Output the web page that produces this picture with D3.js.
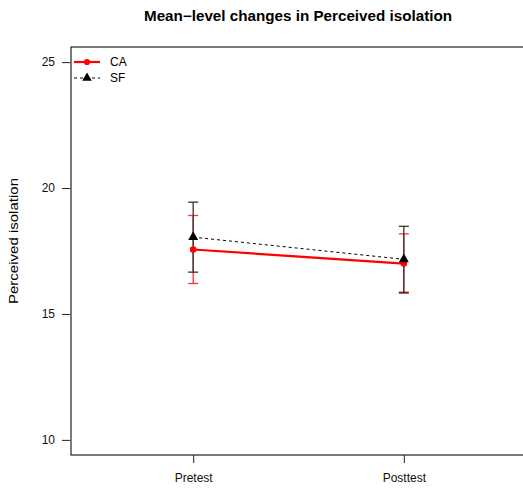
<!DOCTYPE html>
<html>
<head>
<meta charset="utf-8">
<script src="https://cdn.jsdelivr.net/npm/d3@7"></script>
<style>
  body { margin: 0; background: #fff; }
  text { font-family: "Liberation Sans", Arial, sans-serif; }
</style>
</head>
<body>
<svg id="chart" width="523" height="489"></svg>
<script>
// data
const timepoints = ["Pretest", "Posttest"];
const groups = ["CA", "SF"];
const caMeans = [17.56, 17.0];
const caErrors = [1.35, 1.18];
const sfMeans = [18.05, 17.17];
const sfErrors = [1.39, 1.31];
const yTicks = [10, 15, 20, 25];

const svg = d3.select("#chart");
const margin = { top: 47, left: 71, bottom: 455, right: 526 };

// scales (R-style 4% padding)
const x = d3.scaleLinear().domain([0.42, 2.58]).range([margin.left, margin.right]);
const y = d3.scaleLinear().domain([9.4, 25.6]).range([margin.bottom, margin.top]);

// title
svg.append("text")
    .attr("x", 298)
    .attr("y", 21)
    .attr("text-anchor", "middle")
    .attr("font-size", 14)
    .attr("font-weight", "bold")
    .attr("textLength", 308)
    .attr("lengthAdjust", "spacingAndGlyphs")
    .text("Mean\u2212level changes in Perceived isolation");

// box
svg.append("rect")
    .attr("x", margin.left)
    .attr("y", margin.top)
    .attr("width", margin.right - margin.left)
    .attr("height", margin.bottom - margin.top)
    .attr("fill", "none")
    .attr("stroke", "#222")
    .attr("stroke-width", 1.2);

// axes
const yAxis = svg.append("g")
    .attr("transform", "translate(" + (margin.left - 1) + ",0)")
    .call(d3.axisLeft(y).tickValues(yTicks).tickSize(8).tickPadding(7));
const xAxis = svg.append("g")
    .attr("transform", "translate(0," + margin.bottom + ")")
    .call(d3.axisBottom(x).tickValues([1, 2]).tickSize(8).tickPadding(10)
        .tickFormat((d, i) => timepoints[i]));
[yAxis, xAxis].forEach(a => {
    a.select(".domain").remove();
    a.selectAll("line").attr("stroke", "#222");
    a.selectAll("text").attr("font-size", 12).attr("fill", "#111")
        .style("font-family", "'Liberation Sans', Arial, sans-serif");
});

// y label
svg.append("text")
    .attr("transform", "translate(18,241) rotate(-90)")
    .attr("text-anchor", "middle")
    .attr("font-size", 12)
    .attr("textLength", 126)
    .attr("lengthAdjust", "spacingAndGlyphs")
    .text("Perceived isolation");

const xs = [1, 2];
const series = [
    { name: groups[0], means: caMeans, errs: caErrors, color: "red", barColor: "#f33", dash: null, width: 2.2, shape: "circle" },
    { name: groups[1], means: sfMeans, errs: sfErrors, color: "black", barColor: "#333", dash: "3,3", width: 1, shape: "triangle" }
];

// error bars (CA first, SF on top of it, like the reference)
series.forEach(s => {
    const g = svg.append("g");
    s.means.forEach((m, i) => {
        const cx = x(xs[i]);
        g.append("line")
            .attr("x1", cx).attr("x2", cx)
            .attr("y1", y(m - s.errs[i])).attr("y2", y(m + s.errs[i]))
            .attr("stroke", s.barColor).attr("stroke-width", 1.3);
        [m - s.errs[i], m + s.errs[i]].forEach(v => {
            g.append("line")
                .attr("x1", cx - 5).attr("x2", cx + 5)
                .attr("y1", y(v)).attr("y2", y(v))
                .attr("stroke", s.barColor).attr("stroke-width", 1.3);
        });
    });
});

// lines and points
const line = d3.line().x((d, i) => x(xs[i])).y(d => y(d));
series.forEach(s => {
    svg.append("path")
        .datum(s.means)
        .attr("d", line)
        .attr("fill", "none")
        .attr("stroke", s.color)
        .attr("stroke-width", s.width)
        .attr("stroke-dasharray", s.dash);
});
series.forEach(s => {
    const sym = s.shape === "circle" ? d3.symbolCircle : d3.symbolTriangle;
    svg.selectAll(null)
        .data(s.means)
        .enter().append("path")
        .attr("transform", (d, i) => "translate(" + x(xs[i]) + "," + y(d) + ")")
        .attr("d", d3.symbol().type(sym).size(s.shape === "circle" ? 34 : 44))
        .attr("fill", s.color);
});

// legend
const legend = svg.append("g");
series.forEach((s, i) => {
    const ly = 62 + i * 16;
    legend.append("line")
        .attr("x1", 74).attr("x2", 100)
        .attr("y1", ly).attr("y2", ly)
        .attr("stroke", s.color)
        .attr("stroke-width", s.width)
        .attr("stroke-dasharray", s.dash);
    const sym = s.shape === "circle" ? d3.symbolCircle : d3.symbolTriangle;
    legend.append("path")
        .attr("transform", "translate(87," + ly + ")")
        .attr("d", d3.symbol().type(sym).size(s.shape === "circle" ? 30 : 40))
        .attr("fill", s.color);
    legend.append("text")
        .attr("x", 110).attr("y", ly + 4)
        .attr("font-size", 12)
        .text(s.name);
});
</script>
</body>
</html>
